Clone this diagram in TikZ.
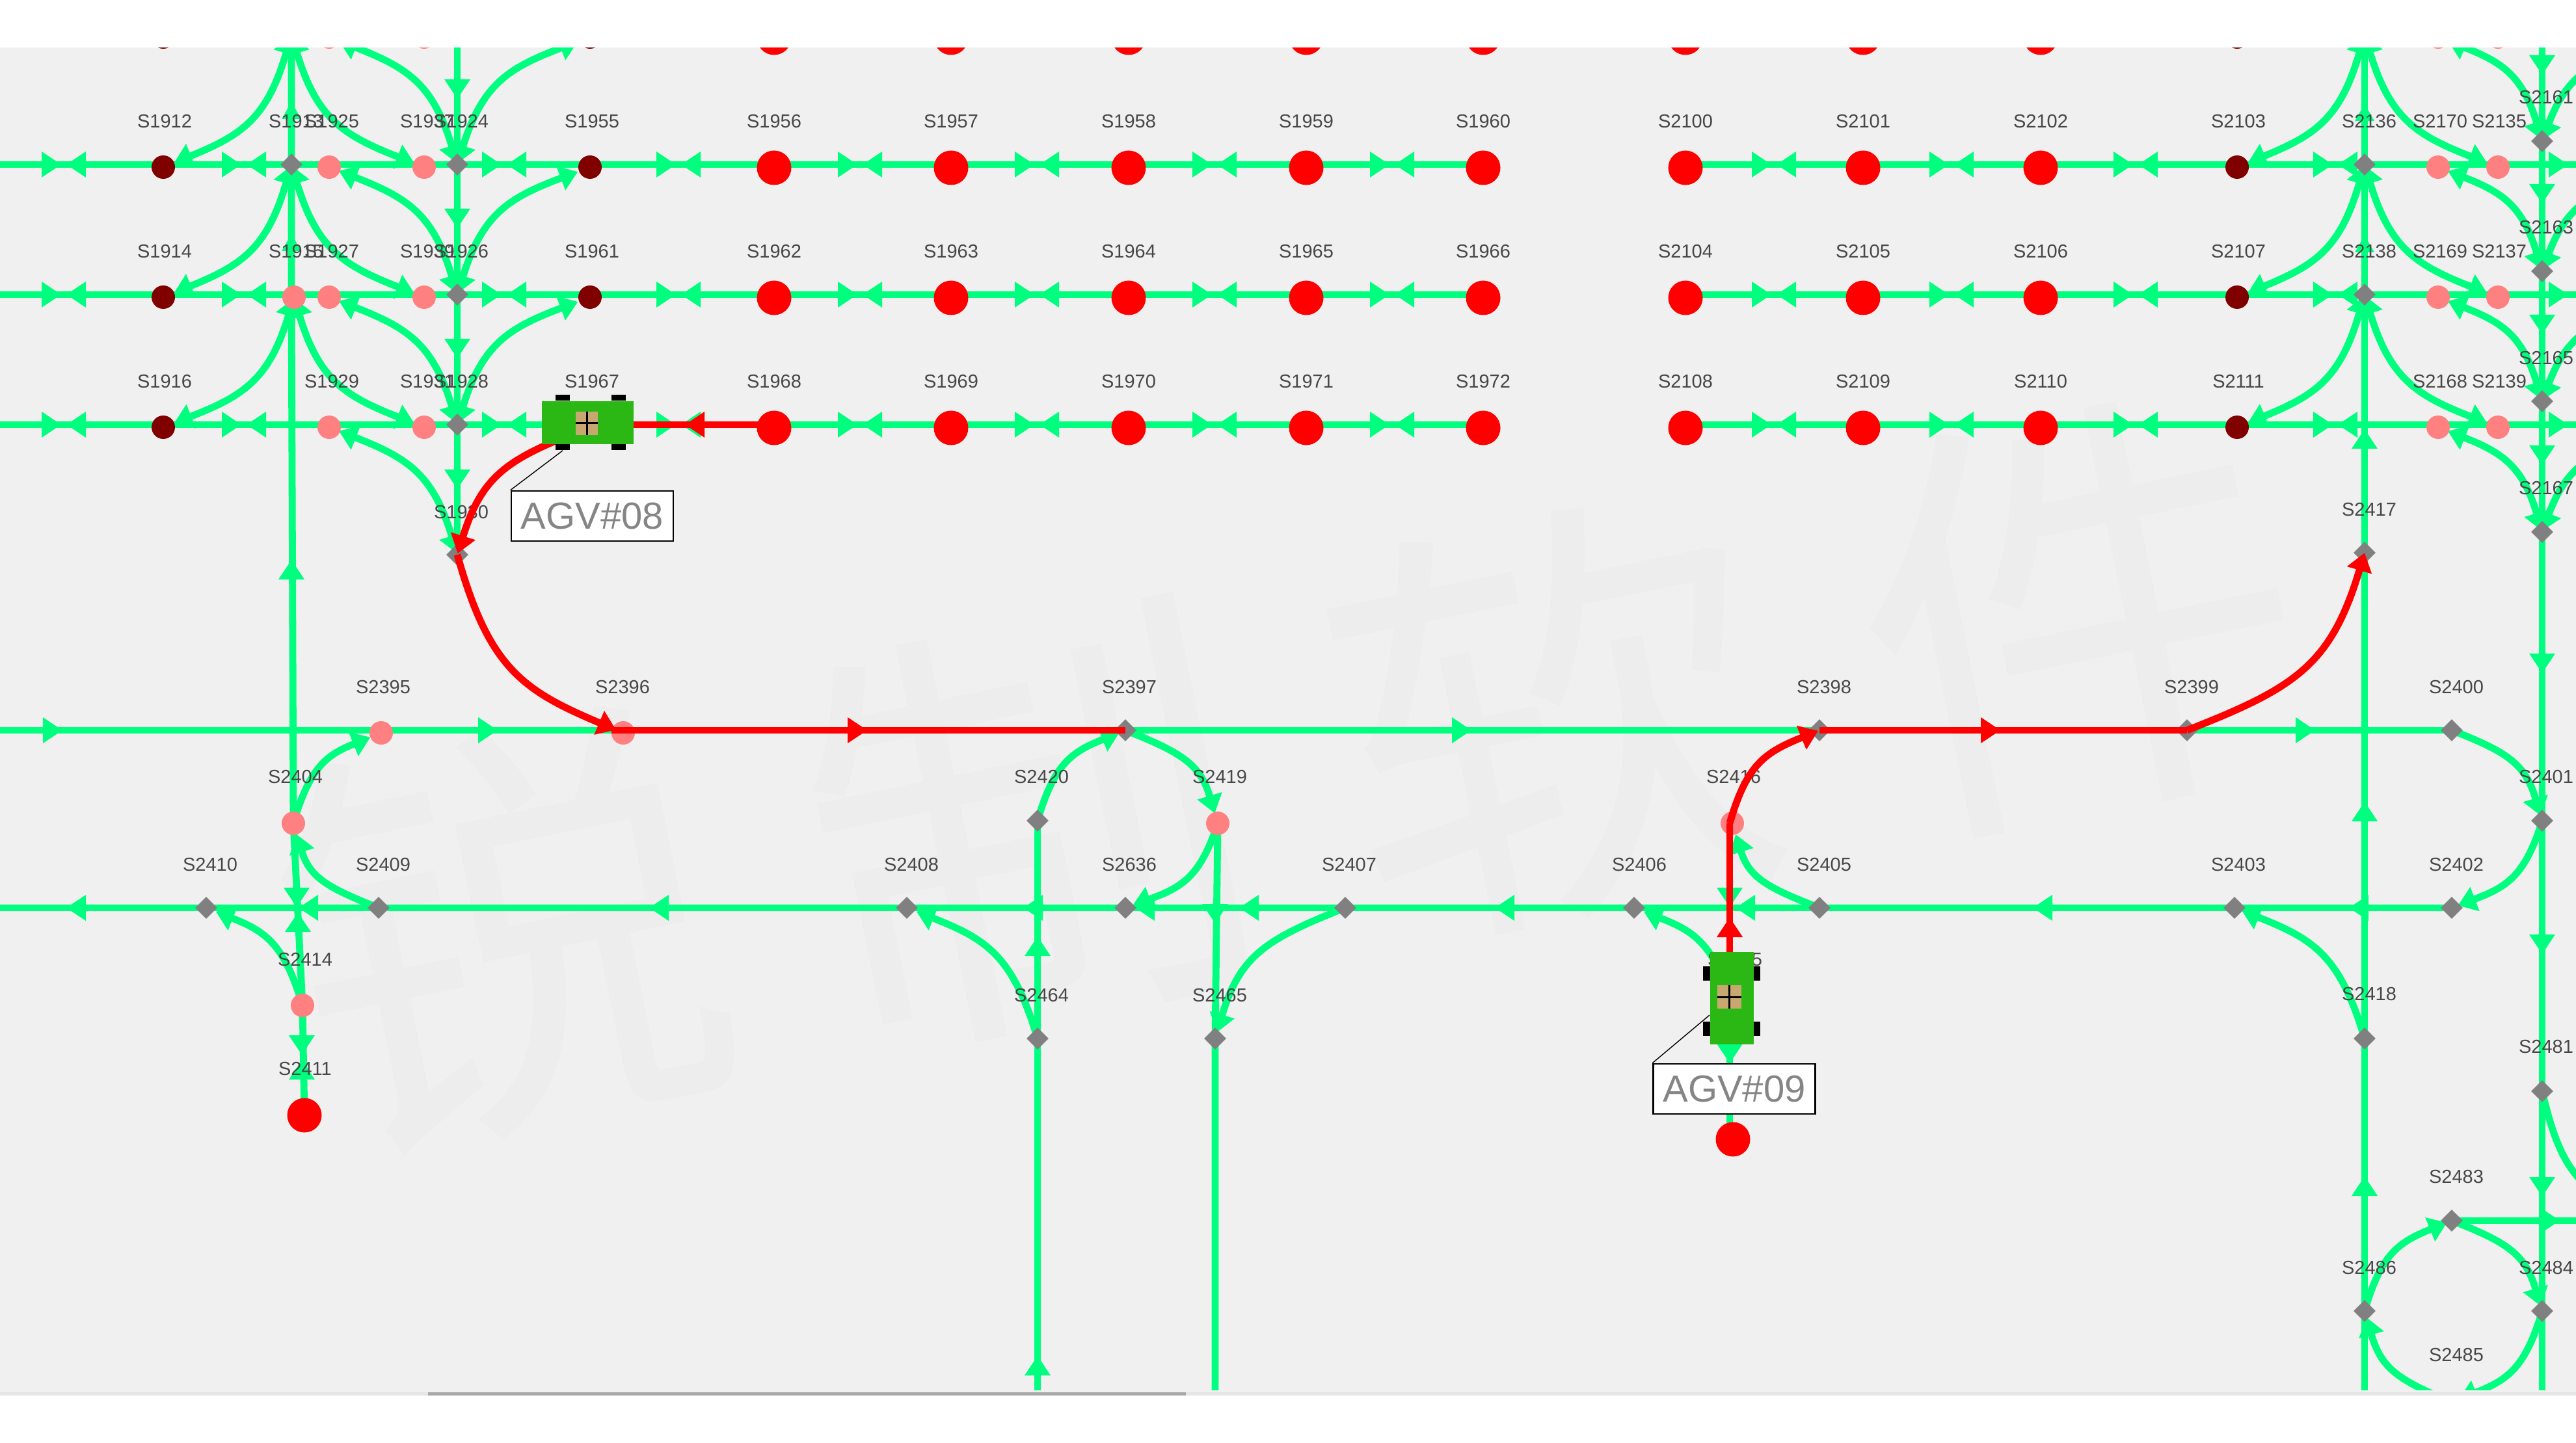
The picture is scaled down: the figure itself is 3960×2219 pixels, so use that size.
\documentclass[tikz,border=0pt]{standalone}
\usepackage{fontspec}
\setmainfont{Liberation Sans}
\newfontfamily\cjkwm{Noto Sans CJK SC}
\usetikzlibrary{arrows.meta,calc,shapes.geometric}
\definecolor{trk}{HTML}{00FF7F}
\definecolor{redn}{HTML}{FF0000}
\definecolor{ltn}{HTML}{FF8080}
\definecolor{dkn}{HTML}{800000}
\definecolor{grn}{HTML}{808080}
\definecolor{pane}{HTML}{F0F0F0}
\definecolor{wmk}{HTML}{EDEDED}
\definecolor{agvg}{HTML}{2CB814}
\definecolor{crate}{HTML}{C8A870}
\pgfdeclarelayer{back}
\pgfsetlayers{back,main}
\tikzset{
  >={Triangle[length=14pt,width=19pt]},
  dkc/.style={circle,fill=dkn,minimum size=18pt,inner sep=0pt},
  ltc/.style={circle,fill=ltn,minimum size=18pt,inner sep=0pt},
  bigc/.style={circle,fill=redn,minimum size=26.5pt,inner sep=0pt},
  dia/.style={diamond,fill=grn,minimum size=17pt,inner sep=0pt},
  lab/.style={font=\fontsize{14.5}{16}\selectfont,text=black!72,inner sep=0pt},
  tk/.style={draw=trk,line width=5.4pt},
  rdl/.style={draw=redn,line width=5.4pt},
  wheel/.style={fill=black,inner sep=0pt},
  tag/.style={draw=black,line width=1.3pt,fill=white,inner sep=0pt,minimum width=124.5pt,minimum height=38.5pt,
    font=\fontsize{29}{31}\selectfont,text=black!48},
  route/.style={to path={let \p1=(\tikztostart),\p2=(\tikztotarget) in
    .. controls (\x1+0.19*\x2-0.19*\x1,\y1+0.635*\y2-0.635*\y1) and (\x1+0.39*\x2-0.39*\x1,\y1+0.76*\y2-0.76*\y1) .. (\x2,\y2)}}
}
% arrowheads on the tracks: colour, tip x, tip y
\newcommand{\hdR}[3][trk]{\fill[#1] (#2,#3) -- ++(-30,-20) -- ++(0,40) -- cycle;}
\newcommand{\hdL}[3][trk]{\fill[#1] (#2,#3) -- ++(30,-20) -- ++(0,40) -- cycle;}
\newcommand{\hdU}[3][trk]{\fill[#1] (#2,#3) -- ++(-20,30) -- ++(40,0) -- cycle;}
\newcommand{\hdD}[3][trk]{\fill[#1] (#2,#3) -- ++(-20,-30) -- ++(40,0) -- cycle;}
\newcommand{\hdUs}[2]{\fill[trk] (#1,#2) -- ++(-15,26) -- ++(30,0) -- cycle;}
% curved track, arrowheads at both ends: from, to, shorten at end
\newcommand{\rtt}[3]{\draw[tk,route,<->,shorten <=1pt,shorten >=#3] (#1.center) to (#2.center);}
% curved track, arrowhead at the 'to' end
\newcommand{\rte}[3]{\draw[tk,route,->,shorten >=#3] (#1.center) to (#2.center);}
% curved track, arrowhead at the 'from' end
\newcommand{\rts}[3]{\draw[tk,route,<-,shorten <=#3] (#1.center) to (#2.center);}
\newcommand{\lb}[3]{\node[lab] (l#1) at (#2,#3) {S#1};}
\begin{document}
\begin{tikzpicture}[x=0.5pt,y=-0.5pt]
\useasboundingbox (0,0) rectangle (3960,2219);
\begin{pgfonlayer}{back}
  \fill[pane] (0,73) rectangle (3960,2138);
  \node[text=wmk,inner sep=0pt,rotate=11.5,font=\cjkwm\fontsize{340}{360}\selectfont] (wm) at (1983,1187) {锐\hspace{72pt}制\hspace{72pt}软\hspace{72pt}件};
\end{pgfonlayer}

% ---------- row 0 (cut by the top of the pane)
\node[dkc] (z1) at (251,57) {};
\node[dia] (z2) at (448,53) {};
\node[ltc] (z3) at (506,57) {};
\node[ltc] (z4) at (652,57) {};
\node[dia] (z5) at (703,53) {};
\node[dkc] (z6) at (907,57) {};
\foreach \n/\x in {z7/1190,z8/1462,z9/1735,z10/2008,z11/2280,z12/2591,z13/2864,z14/3137}
  \node[bigc] (\n) at (\x,58) {};
\node[dkc] (y1) at (3439,57) {};
\node[dia] (y2) at (3635,53) {};
\node[ltc] (y3) at (3748,57) {};
\node[ltc] (y4) at (3840,57) {};
\node[dia] (y5) at (3908,17) {};

% ---------- row 1
\node[dkc] (s1912) at (251,257) {};
\node[dia] (s1913) at (448,253) {};
\node[ltc] (s1925) at (506,257) {};
\node[ltc] (s1937) at (652,257) {};
\node[dia] (s1924) at (703,253) {};
\node[dkc] (s1955) at (907,257) {};
\foreach \n/\x in {s1956/1190,s1957/1462,s1958/1735,s1959/2008,s1960/2280,s2100/2591,s2101/2864,s2102/3137}
  \node[bigc] (\n) at (\x,258) {};
\node[dkc] (s2103) at (3439,257) {};
\node[dia] (s2136) at (3635,253) {};
\node[ltc] (s2170) at (3748,257) {};
\node[ltc] (s2135) at (3840,257) {};
% ---------- row 2
\node[dkc] (s1914) at (251,457) {};
\node[ltc] (s1915) at (452,457) {};
\node[ltc] (s1927) at (506,457) {};
\node[ltc] (s1939) at (652,457) {};
\node[dia] (s1926) at (703,453) {};
\node[dkc] (s1961) at (907,457) {};
\foreach \n/\x in {s1962/1190,s1963/1462,s1964/1735,s1965/2008,s1966/2280,s2104/2591,s2105/2864,s2106/3137}
  \node[bigc] (\n) at (\x,458) {};
\node[dkc] (s2107) at (3439,457) {};
\node[dia] (s2138) at (3635,453) {};
\node[ltc] (s2169) at (3748,457) {};
\node[ltc] (s2137) at (3840,457) {};
% ---------- row 3
\node[dkc] (s1916) at (251,657) {};
\node[ltc] (s1929) at (506,657) {};
\node[ltc] (s1931) at (652,657) {};
\node[dia] (s1928) at (703,653) {};
\node[dkc] (s1967) at (907,657) {};
\foreach \n/\x in {s1968/1190,s1969/1462,s1970/1735,s1971/2008,s1972/2280,s2108/2591,s2109/2864,s2110/3137}
  \node[bigc] (\n) at (\x,658) {};
\node[dkc] (s2111) at (3439,657) {};
\coordinate (c653) at (3635,653);
\coordinate (c453) at (448,453);
\node[ltc] (s2168) at (3748,657) {};
\node[ltc] (s2139) at (3840,657) {};
% ---------- right column
\node[dia] (s2161) at (3908,217) {};
\node[dia] (s2163) at (3908,417) {};
\node[dia] (s2165) at (3908,617) {};
\node[dia] (s2167) at (3908,818) {};
\node[dia] (s2401) at (3908,1262) {};
\node[dia] (s2481) at (3908,1678) {};
\node[dia] (s2484) at (3908,2016) {};
% ---------- middle and lower parts
\node[dia] (s1930) at (703,853) {};
\node[dia] (s2417) at (3635,850) {};
\node[ltc] (s2395) at (586,1127) {};
\node[ltc] (s2396) at (958,1127) {};
\node[dia] (s2397) at (1730,1123) {};
\node[dia] (s2398) at (2797,1123) {};
\node[dia] (s2399) at (3362,1123) {};
\node[dia] (s2400) at (3769,1123) {};
\node[ltc] (s2404) at (451,1266) {};
\node[dia] (s2420) at (1595,1262) {};
\node[ltc] (s2419) at (1872,1266) {};
\node[ltc] (s2416) at (2663,1266) {};
\node[dia] (s2410) at (317,1396) {};
\node[dia] (s2409) at (582,1396) {};
\node[dia] (s2408) at (1394,1396) {};
\node[dia] (s2636) at (1730,1396) {};
\node[dia] (s2407) at (2068,1396) {};
\node[dia] (s2406) at (2512,1396) {};
\node[dia] (s2405) at (2797,1396) {};
\node[dia] (s2403) at (3435,1396) {};
\node[dia] (s2402) at (3769,1396) {};
\node[ltc] (s2414) at (465,1546) {};
\node[ltc] (s2415) at (2663,1546) {};
\node[dia] (s2464) at (1595,1597) {};
\node[dia] (s2465) at (1868,1597) {};
\node[dia] (s2418) at (3635,1597) {};
\node[bigc] (s2411) at (468,1715) {};
\node[bigc] (s2412) at (2664,1752) {};
\node[dia] (s2483) at (3769,1877) {};
\node[dia] (s2486) at (3635,2016) {};
\node[dia] (s2485) at (3769,2156) {};

% free ends
\coordinate (e1) at (0,253);
\coordinate (e2) at (0,453);
\coordinate (e3) at (0,653);
\coordinate (f1) at (3960,253);
\coordinate (f2) at (3960,453);
\coordinate (f3) at (3960,653);
\coordinate (e4) at (0,1123);
\coordinate (e5) at (0,1396);
\coordinate (f6) at (3960,1877);
\coordinate (g1) at (1595,2219);
\coordinate (g2) at (1868,2219);
\coordinate (g3) at (3635,2219);
\coordinate (g4) at (3908,2219);
\coordinate (p0) at (4112,53);
\coordinate (p1) at (4112,253);
\coordinate (p2) at (4112,453);
\coordinate (p3) at (4112,653);
\coordinate (p4) at (4060,1877);
\coordinate (r16) at (2659,1266);

% ---------- green tracks, under the stations
\begin{pgfonlayer}{back}
  \draw[tk] (e1) foreach \n in {s1912,s1913,s1925,s1937,s1924,s1955,s1956,s1957,s1958,s1959,s1960} { -- (e1 -| \n) };
  \draw[tk] (e2) foreach \n in {s1914,s1915,s1927,s1939,s1926,s1961,s1962,s1963,s1964,s1965,s1966} { -- (e2 -| \n) };
  \draw[tk] (e3) foreach \n in {s1916,s1929,s1931,s1928,s1967,s1968,s1969,s1970,s1971,s1972} { -- (e3 -| \n) };
  \draw[tk] (f1) foreach \n in {s2135,s2170,s2136,s2103,s2102,s2101,s2100} { -- (f1 -| \n) };
  \draw[tk] (f2) foreach \n in {s2137,s2169,s2138,s2107,s2106,s2105,s2104} { -- (f2 -| \n) };
  \draw[tk] (f3) foreach \n in {s2139,s2168,s2111,s2110,s2109,s2108} { -- (f3 -| \n) };
  \draw[tk] (e4) foreach \n in {s2395,s2396,s2397,s2398,s2399,s2400} { -- (e4 -| \n) };
  \draw[tk] (e5) foreach \n in {s2410,s2409,s2408,s2636,s2407,s2406,s2405,s2403,s2402} { -- (e5 -| \n) };
  \draw[tk] (z2.center) -- (s1913.center) -- (c453) -- (s2404.center);
  \draw[tk] (s2404.center) -- (s2414.center) -- (s2411.center);
  \draw[tk] (z5.center) -- (s1924.center) -- (s1926.center) -- (s1928.center) -- (s1930.center);
  \draw[tk] (y2.center) -- (s2136.center) -- (s2138.center) -- (c653) -- (s2417.center) -- (s2418.center) -- (s2486.center) -- (g3);
  \draw[tk] (y5.center) -- (s2161.center) -- (s2163.center) -- (s2165.center) -- (s2167.center) -- (s2401.center) -- (s2481.center) -- (s2484.center) -- (g4);
  \draw[tk] (s2420.center) -- (s2464.center) -- (g1);
  \draw[tk] (s2419.center) -- (s2465.center) -- (g2);
  \draw[tk] (r16) -- (r16 |- s2412);
  \draw[tk] (s2483.center) -- (f6);

  % curves of the rows
  \rtt{z2}{s1912}{9pt}\rtt{s1913}{s1914}{9pt}\rtt{s1915}{s1916}{9pt}
  \rtt{z2}{s1937}{8pt}\rtt{s1913}{s1939}{8pt}\rtt{s1915}{s1931}{8pt}
  \rtt{s1924}{z3}{8pt}\rtt{s1926}{s1925}{8pt}\rtt{s1928}{s1927}{8pt}\rtt{s1930}{s1929}{8pt}
  \rtt{s1924}{z6}{10pt}\rtt{s1926}{s1955}{10pt}\rtt{s1928}{s1961}{10pt}
  \rtt{y2}{s2103}{9pt}\rtt{s2136}{s2107}{9pt}\rtt{s2138}{s2111}{9pt}
  \rtt{y2}{s2135}{9pt}\rtt{s2136}{s2137}{9pt}\rtt{s2138}{s2139}{9pt}
  \rtt{s2161}{y3}{8pt}\rtt{s2163}{s2170}{8pt}\rtt{s2165}{s2169}{8pt}\rtt{s2167}{s2168}{8pt}
  \rtt{s2161}{p0}{0pt}\rtt{s2163}{p1}{0pt}\rtt{s2165}{p2}{0pt}\rtt{s2167}{p3}{0pt}
  % curves of the lower part
  \rte{s2404}{s2395}{9pt}
  \rts{s2404}{s2409}{9pt}
  \rte{s2414}{s2410}{8pt}
  \rte{s2420}{s2397}{5pt}
  \rts{s2419}{s2397}{8pt}
  \rte{s2419}{s2636}{6pt}
  \rte{s2464}{s2408}{8pt}
  \rts{s2465}{s2407}{5pt}
  \rts{s2416}{s2405}{9pt}
  \rte{s2415}{s2406}{8pt}
  \rte{s2418}{s2403}{6pt}
  \rts{s2401}{s2400}{4pt}
  \rte{s2401}{s2402}{5pt}
  \rte{s2486}{s2483}{4pt}
  \rts{s2484}{s2483}{4pt}
  \rte{s2484}{s2485}{6pt}
  \rts{s2486}{s2485}{5pt}
  \draw[tk,route] (s2481.center) to (p4);

  % arrowheads along the rows: pairs meeting point to point
  \foreach \y in {253,453,653}{
    \foreach \x in {98,375,775,1043,1322,1594,1867,2140,2727,3000,3283,3590}{
      \hdR{\x-4}{\y}\hdL{\x+4}{\y}}
    \hdR{3948}{\y}}
  % arrowheads on the long rows
  \hdR{96}{1123}\hdR{765}{1123}\hdR{2262}{1123}\hdR{3559}{1123}
  \hdL{102}{1396}\hdL{459}{1396}\hdL{998}{1396}\hdL{1573}{1396}\hdL{1745}{1396}\hdL{1905}{1396}
  \hdL{2298}{1396}\hdL{2668}{1396}\hdL{3125}{1396}\hdL{3611}{1396}
  \hdR{3935}{1877}
  % arrowheads on the columns
  \hdD{703}{152}\hdD{703}{351}\hdD{703}{551}\hdD{703}{752}
  \hdUs{448}{157}\hdUs{448}{360}\hdU{448}{861}
  \hdUs{3635}{160}\hdUs{3635}{362}\hdU{3635}{660}\hdU{3635}{1233}\hdU{3635}{1809}
  \hdD{3908}{115}\hdD{3908}{313}\hdD{3908}{514}\hdD{3908}{715}\hdD{3908}{1035}\hdD{3908}{1467}\hdD{3908}{1840}
  \hdD{456}{1395}\hdU{458}{1403}\hdD{464}{1622}\hdU{464}{1630}
  \hdU{1595}{1440}\hdU{1595}{2085}\hdD{1868}{1420}
  \hdD{2659}{1395}\hdD{2659}{1635}
\end{pgfonlayer}

% ---------- labels
\foreach \n/\x in {1912/253,1913/455,1925/510,1937/657,1924/709,1955/910,1956/1190,1957/1462,1958/1735,1959/2008,1960/2280,2100/2591,2101/2864,2102/3137,2103/3441,2136/3642,2170/3751,2135/3842}
  {\lb{\n}{\x}{187}}
\foreach \n/\x in {1914/253,1915/455,1927/510,1939/657,1926/709,1961/910,1962/1190,1963/1462,1964/1735,1965/2008,1966/2280,2104/2591,2105/2864,2106/3137,2107/3441,2138/3642,2169/3751,2137/3842}
  {\lb{\n}{\x}{387}}
\foreach \n/\x in {1916/253,1929/510,1931/657,1928/709,1967/910,1968/1190,1969/1462,1970/1735,1971/2008,1972/2280,2108/2591,2109/2864,2110/3137,2111/3441,2168/3751,2139/3842}
  {\lb{\n}{\x}{587}}
\lb{2161}{3914}{150}\lb{2163}{3914}{350}\lb{2165}{3914}{551}\lb{2167}{3914}{751}
\lb{1930}{709}{788}\lb{2417}{3642}{784}
\foreach \n/\x in {2395/589,2396/957,2397/1736,2398/2804,2399/3369,2400/3776}
  {\lb{\n}{\x}{1057}}
\foreach \n/\x in {2404/454,2420/1601,2419/1875,2416/2665,2401/3914}
  {\lb{\n}{\x}{1195}}
\foreach \n/\x in {2410/323,2409/589,2408/1401,2636/1736,2407/2074,2406/2520,2405/2804,2403/3441,2402/3776}
  {\lb{\n}{\x}{1330}}
\lb{2414}{469}{1476}\lb{2415}{2667}{1476}\lb{2411}{469}{1644}
\lb{2464}{1601}{1531}\lb{2465}{1875}{1531}\lb{2418}{3642}{1529}
\lb{2481}{3914}{1610}\lb{2483}{3776}{1810}\lb{2486}{3642}{1949}\lb{2484}{3914}{1949}\lb{2485}{3776}{2083}

% ---------- reserved routes, in red
\draw[rdl] (e3 -| s1967) -- (e3 -| s1968);
\hdL[redn]{1053}{653}
\draw[rdl,route,<-,shorten <=1pt] (s1930.center) to (s1967.center);
\draw[rdl,route,->,shorten >=6pt] (s1930.center) to (s2396.center);
\draw[rdl] (s2396.west |- s2397) -- (s2397.center);
\hdR[redn]{1333}{1123}
\draw[rdl] (r16) -- (r16 |- s2415);
\hdU[redn]{2659}{1411}
\draw[rdl,route,->,shorten >=1pt] (r16) to (s2398.center);
\draw[rdl] (s2398.center) -- (s2399.center);
\hdR[redn]{3075}{1123}
\draw[rdl,route,<-,shorten <=0pt] (s2417.center) to (s2399.center);

% ---------- vehicle AGV#08
\node[fill=agvg,minimum width=70.5pt,minimum height=33pt,inner sep=0pt] (agv8) at (903,650) {};
\node[wheel,minimum width=11pt,minimum height=4.5pt] (w81) at (865,612) {};
\node[wheel,minimum width=11pt,minimum height=4.5pt] (w82) at (951,612) {};
\node[wheel,minimum width=11pt,minimum height=4.5pt] (w83) at (865,688) {};
\node[wheel,minimum width=11pt,minimum height=4.5pt] (w84) at (951,688) {};
\node[fill=crate,minimum width=17pt,minimum height=18pt,inner sep=0pt] (box8) at (902,651) {};
\draw[black,line width=1.5pt] (box8.north) -- (box8.south) (box8.west) -- (box8.east);
\node[tag] (tag8) at (910.5,793.5) {AGV\#08};
\draw[black,line width=0.7pt] (w83.south) -- (tag8.north west);

% ---------- vehicle AGV#09
\node[fill=agvg,minimum width=33.5pt,minimum height=71pt,inner sep=0pt] (agv9) at (2662.5,1535) {};
\node[wheel,minimum width=5.5pt,minimum height=11pt] (w91) at (2623.5,1497) {};
\node[wheel,minimum width=5.5pt,minimum height=11pt] (w92) at (2623.5,1582) {};
\node[wheel,minimum width=5pt,minimum height=11pt] (w93) at (2700.5,1497) {};
\node[wheel,minimum width=5pt,minimum height=11pt] (w94) at (2700.5,1582) {};
\node[fill=crate,minimum width=18.5pt,minimum height=18pt,inner sep=0pt] (box9) at (2658.5,1533) {};
\draw[black,line width=1.5pt] (box9.north) -- (box9.south) (box9.west) -- (box9.east);
\node[tag] (tag9) at (2666,1674.5) {AGV\#09};
\coordinate (c9) at (2628,1561);
\draw[black,line width=0.7pt] (c9) -- (tag9.north west);

% ---------- window edges
\fill[white] (0,0) rectangle (3960,73);
\fill[white] (0,2138) rectangle (3960,2219);
\fill[pane] (0,2138) rectangle (3960,2141);
\fill[black!10] (0,2141) rectangle (3960,2146);
\fill[black!34] (658,2141) rectangle (1823,2146);
\end{tikzpicture}
\end{document}
